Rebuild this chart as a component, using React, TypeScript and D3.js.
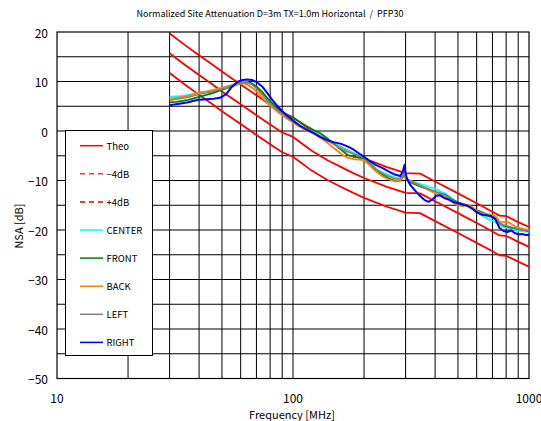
import React, { useEffect, useRef } from 'react';
import * as d3 from 'd3';

// Measurement frequencies (MHz)
const FREQ = [
  30, 32, 34, 36, 38, 40, 43, 46, 49, 52, 55, 58, 61, 64, 67, 70, 74, 78, 82, 86,
  90, 95, 100, 107, 114, 122, 130, 140, 150, 160, 170, 180, 190, 200, 212, 225, 240, 255, 270, 285,
  292, 297, 300, 305, 315, 330, 345, 360, 375, 390, 405, 420, 440, 460, 480, 500, 525, 550, 575, 600,
  630, 660, 690, 720, 750, 780, 810, 840, 870, 900, 935, 970, 1000,
];

// Measured NSA (dB) per receive position
const CENTER = [
  6.9, 7.0, 7.1, 7.3, 7.5, 7.7, 7.9, 8.2, 8.6, 8.9, 9.3, 9.7, 9.9, 9.9, 9.5, 8.7, 7.5, 6.1, 5.0, 4.1,
  3.4, 2.5, 1.8, 1.0, 0.4, -0.2, -0.9, -1.8, -2.6, -3.4, -4.0, -4.4, -4.8, -5.2, -6.4, -7.7, -8.4, -8.9, -9.4, -9.5,
  -9.0, -8.0, -9.4, -9.8, -10.1, -10.4, -10.7, -11.0, -11.3, -11.5, -11.8, -12.2, -12.6, -13.2, -14.0, -14.5, -14.8, -15.2, -15.7, -16.3,
  -17.0, -17.6, -18.0, -18.4, -19.0, -19.4, -19.5, -19.7, -19.9, -20.1, -20.2, -20.3, -20.3,
];
const FRONT = [
  5.8, 5.9, 6.1, 6.3, 6.6, 6.9, 7.3, 7.7, 8.2, 8.6, 9.0, 9.4, 9.7, 9.8, 9.6, 9.0, 7.9, 6.6, 5.5, 4.6,
  3.9, 3.2, 2.6, 1.8, 1.0, 0.2, -0.4, -1.5, -2.7, -3.8, -4.8, -5.2, -5.4, -5.5, -6.6, -7.9, -8.9, -9.6, -10.1, -10.0,
  -9.4, -8.5, -9.6, -10.0, -10.4, -10.8, -11.2, -11.5, -11.8, -12.1, -12.4, -12.6, -12.9, -13.5, -14.0, -14.4, -14.7, -15.0, -15.5, -16.0,
  -16.4, -16.8, -17.1, -17.6, -18.6, -19.1, -19.3, -19.5, -19.6, -19.8, -19.9, -20.1, -20.2,
];
const BACK = [
  6.5, 6.7, 6.9, 7.1, 7.4, 7.8, 8.0, 8.3, 8.6, 8.9, 9.2, 9.5, 9.6, 9.4, 8.8, 8.0, 6.8, 5.6, 4.7, 3.9,
  3.2, 2.4, 1.7, 0.8, 0.1, -0.5, -1.3, -2.4, -3.6, -4.6, -5.4, -5.7, -5.8, -5.9, -7.0, -8.2, -9.2, -9.8, -10.2, -10.0,
  -9.2, -8.3, -9.3, -9.7, -10.0, -10.5, -11.0, -11.4, -11.9, -12.3, -12.6, -12.8, -13.1, -13.8, -14.6, -15.0, -15.2, -14.9, -15.4, -16.1,
  -16.6, -16.8, -16.9, -17.2, -18.3, -18.4, -18.3, -18.8, -19.2, -19.5, -19.7, -19.9, -20.0,
];
const LEFT = [
  6.2, 6.4, 6.6, 6.8, 7.1, 7.4, 7.7, 8.0, 8.4, 8.7, 9.1, 9.5, 9.8, 9.8, 9.4, 8.6, 7.4, 6.1, 5.1, 4.2,
  3.5, 2.6, 1.9, 1.0, 0.3, -0.3, -1.0, -1.9, -2.8, -3.6, -4.2, -4.6, -5.0, -5.3, -6.5, -7.8, -8.6, -9.2, -9.7, -9.7,
  -9.1, -8.2, -9.5, -9.9, -10.2, -10.6, -11.0, -11.4, -11.7, -12.0, -12.3, -12.6, -13.0, -13.5, -14.2, -14.6, -14.9, -15.2, -15.7, -16.2,
  -16.7, -17.1, -17.4, -17.8, -18.6, -19.0, -19.2, -19.4, -19.6, -19.8, -20.0, -20.1, -20.2,
];
const RIGHT = [
  5.2, 5.4, 5.6, 5.8, 6.1, 6.3, 6.4, 6.5, 6.7, 7.4, 8.9, 9.9, 10.3, 10.4, 10.3, 9.9, 9.0, 7.6, 6.2, 5.0,
  4.0, 3.0, 2.1, 1.1, 0.3, -0.4, -1.2, -1.9, -2.3, -2.6, -3.1, -3.7, -4.5, -5.2, -6.1, -6.9, -7.5, -8.2, -8.8, -9.1,
  -8.2, -6.8, -8.6, -9.8, -11.0, -12.1, -13.1, -13.9, -14.3, -13.8, -13.1, -13.0, -13.6, -13.9, -14.4, -14.6, -14.9, -15.1, -15.7, -16.4,
  -16.9, -17.0, -17.2, -17.8, -19.6, -20.2, -20.4, -20.1, -20.6, -20.9, -20.8, -21.0, -21.0,
];

// Theoretical NSA (dB) and its ±4 dB tolerance band
const THEO_FREQ = [30, 35, 40, 45, 50, 60, 70, 80, 90, 100, 120, 140, 160, 180, 200, 250, 300, 345, 400, 500, 600, 700, 750, 800, 900, 1000];
const THEO = [15.7, 13.3, 11.3, 9.6, 8.0, 5.4, 3.2, 1.3, -0.3, -1.2, -4.0, -5.9, -7.3, -8.5, -9.5, -11.3, -12.5, -12.6, -14.2, -16.6, -18.6, -20.3, -21.1, -21.2, -22.4, -23.4];
const TOLERANCE = 4;

const Y_TICKS = [20, 10, 0, -10, -20, -30, -40, -50];
const X_TICKS = [10, 100, 1000];

const TITLE = 'Normalized Site Attenuation D=3m TX=1.0m Horizontal\u00a0\u00a0/\u00a0\u00a0PFP30';
const X_LABEL = 'Frequency [MHz]';
const Y_LABEL = 'NSA [dB]';

const FONT = '"Noto Sans CJK JP", "DejaVu Sans", sans-serif';

export default function App() {
  const ref = useRef<SVGSVGElement>(null);

  useEffect(() => {
    const svg = d3.select(ref.current);
    svg.selectAll('*').remove();

    const left = 57, right = 529, top = 32, bottom = 378.5;
    const x = d3.scaleLog().domain([10, 1000]).range([left, right]);
    const y = d3.scaleLinear().domain([-50, 20]).range([bottom, top]);

    svg.append('rect').attr('width', 541).attr('height', 421).attr('fill', '#fff');

    // grid
    const grid = svg.append('g').attr('stroke', '#000').attr('stroke-width', 1);
    const vlines: number[] = [];
    [10, 100].forEach((d) => {
      for (let k = 2; k <= 9; k++) vlines.push(d * k);
    });
    vlines.push(100);
    vlines.forEach((f) => {
      grid.append('line').attr('x1', x(f)).attr('x2', x(f)).attr('y1', top).attr('y2', bottom);
    });
    for (let v = -45; v <= 15; v += 5) {
      grid.append('line').attr('x1', left).attr('x2', right).attr('y1', y(v)).attr('y2', y(v));
    }
    svg.append('rect')
      .attr('x', left).attr('y', top).attr('width', right - left).attr('height', bottom - top)
      .attr('fill', 'none').attr('stroke', '#000').attr('stroke-width', 1.2);

    svg.append('clipPath').attr('id', 'plot-clip')
      .append('rect').attr('x', left).attr('y', top).attr('width', right - left).attr('height', bottom - top);

    const plot = svg.append('g').attr('clip-path', 'url(#plot-clip)');
    const line = d3.line<[number, number]>().x((d) => x(d[0])).y((d) => y(d[1]));

    const theoPts = THEO_FREQ.map((f, i) => [f, THEO[i]] as [number, number]);
    const upper = THEO_FREQ.map((f, i) => [f, THEO[i] + TOLERANCE] as [number, number]);
    const lower = THEO_FREQ.map((f, i) => [f, THEO[i] - TOLERANCE] as [number, number]);
    [lower, upper, theoPts].forEach((pts) => {
      plot.append('path').attr('d', line(pts)).attr('fill', 'none')
        .attr('stroke', '#ff0000').attr('stroke-width', 1.8).attr('stroke-linejoin', 'round');
    });

    const series = [
      { name: 'CENTER', values: CENTER, color: '#00ffff', width: 1.8 },
      { name: 'FRONT', values: FRONT, color: '#008000', width: 1.8 },
      { name: 'BACK', values: BACK, color: '#ff8000', width: 1.8 },
      { name: 'LEFT', values: LEFT, color: '#808080', width: 1.5 },
      { name: 'RIGHT', values: RIGHT, color: '#0000ff', width: 2 },
    ];
    series.forEach((s) => {
      const pts = FREQ.map((f, i) => [f, s.values[i]] as [number, number]);
      plot.append('path').attr('d', line(pts)).attr('fill', 'none')
        .attr('stroke', s.color).attr('stroke-width', s.width).attr('stroke-linejoin', 'round');
    });

    // tick labels
    Y_TICKS.forEach((v) => {
      svg.append('text').attr('x', 48).attr('y', y(v)).attr('text-anchor', 'end')
        .attr('dominant-baseline', 'central').attr('font-family', FONT).attr('font-size', 12)
        .attr('fill', '#000').text(String(v).replace('-', '\u2212'));
    });
    X_TICKS.forEach((f) => {
      svg.append('text').attr('x', x(f)).attr('y', 397).attr('text-anchor', 'middle')
        .attr('dominant-baseline', 'central').attr('font-family', FONT).attr('font-size', 12)
        .attr('fill', '#000').text(String(f));
    });

    svg.append('text').attr('x', 270).attr('y', 13).attr('text-anchor', 'middle')
      .attr('dominant-baseline', 'central').attr('font-family', FONT).attr('font-size', 9)
      .text(TITLE);
    svg.append('text').attr('x', 292).attr('y', 414).attr('text-anchor', 'middle')
      .attr('dominant-baseline', 'central').attr('font-family', FONT).attr('font-size', 11).text(X_LABEL);
    svg.append('text').attr('transform', 'translate(18,226) rotate(-90)').attr('text-anchor', 'middle')
      .attr('dominant-baseline', 'central').attr('font-family', FONT).attr('font-size', 11).text(Y_LABEL);

    // legend
    const lg = svg.append('g');
    lg.append('rect').attr('x', 65.5).attr('y', 130.5).attr('width', 87).attr('height', 225)
      .attr('fill', '#fff').attr('stroke', '#000').attr('stroke-width', 1);
    const items = [
      { label: 'Theo', color: '#ff0000', dash: null as string | null, width: 1.5 },
      { label: '\u22124dB', color: '#ff3030', dash: '5,4', width: 1.5 },
      { label: '+4dB', color: '#e00000', dash: '5,4', width: 1.5 },
      ...series.map((s) => ({ label: s.name, color: s.color, dash: null as string | null, width: 1.5 })),
    ];
    items.forEach((it, i) => {
      const yy = 145.7 + i * 28.1;
      const l = lg.append('line').attr('x1', 80).attr('x2', 103).attr('y1', yy).attr('y2', yy)
        .attr('stroke', it.color).attr('stroke-width', it.width);
      if (it.dash) l.attr('stroke-dasharray', it.dash);
      lg.append('text').attr('x', 106.5).attr('y', yy).attr('dominant-baseline', 'central')
        .attr('font-family', FONT).attr('font-size', 9.5).attr('fill', '#000').text(it.label);
    });
  }, []);

  return (
    <svg ref={ref} width={541} height={421}
      style={{ position: 'absolute', left: 0, top: 0, display: 'block' }} />
  );
}
